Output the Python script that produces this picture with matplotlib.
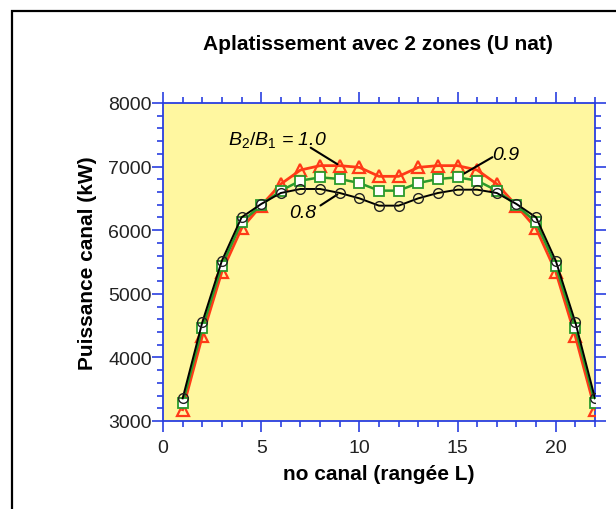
import matplotlib
matplotlib.use('Agg')
import matplotlib.pyplot as plt
from matplotlib.patches import Rectangle
from matplotlib.ticker import MultipleLocator

plt.rcParams['font.family'] = ['Liberation Sans', 'DejaVu Sans']
plt.rcParams['mathtext.fontset'] = 'custom'
plt.rcParams['mathtext.it'] = 'Liberation Sans:italic'
plt.rcParams['mathtext.rm'] = 'Liberation Sans'

# puissance par canal, rangée L
canal = list(range(1, 23))
p_10 = [3178, 4331, 5348, 6029, 6386, 6726, 6946, 7015, 7015, 6988, 6847,
        6847, 6988, 7015, 7015, 6946, 6726, 6386, 6029, 5348, 4331, 3178]
p_09 = [3283, 4457, 5442, 6124, 6396, 6622, 6779, 6831, 6805, 6742, 6622,
        6622, 6742, 6805, 6831, 6779, 6622, 6396, 6124, 5442, 4457, 3283]
p_08 = [3356, 4551, 5521, 6202, 6412, 6585, 6648, 6648, 6585, 6501, 6386,
        6386, 6501, 6585, 6637, 6637, 6585, 6412, 6202, 5521, 4551, 3356]

bleu = '#2a3fe0'

fig = plt.figure(figsize=(6.16, 5.10), dpi=100)
fig.patches.append(Rectangle((12 / 616, -0.1), 1.2, 1 - 12 / 510 + 0.1,
                             transform=fig.transFigure, fill=False,
                             edgecolor='black', lw=1.6))

ax = fig.add_axes([163 / 616, 1 - 422 / 510, 432 / 616, 318 / 510])
ax.set_facecolor('#fff7a0')

ax.plot(canal, p_10, color='#ff3a17', lw=2.0, marker='^', ms=8,
        mfc='none', mec='#ff3a17', mew=1.6, zorder=3)
ax.plot(canal, p_09, color='#2b9a2b', lw=1.8, marker='s', ms=7,
        mfc='white', mec='#2b9a2b', mew=1.3, zorder=4)
ax.plot(canal, p_08, color='black', lw=1.4, marker='o', ms=7,
        mfc='none', mec='#222222', mew=1.0, zorder=5)

# étiquettes des courbes
ax.text(3.3, 7434, r'$B_2/B_1$ = 1.0', style='italic', fontsize=14, va='center')
ax.annotate('', xy=(9, p_10[8]), xytext=(7.4, 7320),
            arrowprops=dict(arrowstyle='-', color='black', lw=1.5))
ax.text(16.75, 7198, '0.9', style='italic', fontsize=14, va='center')
ax.annotate('', xy=(15, p_09[14]), xytext=(16.9, 7170),
            arrowprops=dict(arrowstyle='-', color='black', lw=1.5))
ax.text(6.45, 6286, '0.8', style='italic', fontsize=14, va='center')
ax.annotate('', xy=(9, p_08[8]), xytext=(7.9, 6365),
            arrowprops=dict(arrowstyle='-', color='black', lw=1.5))

ax.set_xlim(0, 22)
ax.set_ylim(3000, 8000)
ax.xaxis.set_major_locator(MultipleLocator(5))
ax.xaxis.set_minor_locator(MultipleLocator(1))
ax.yaxis.set_major_locator(MultipleLocator(1000))
ax.yaxis.set_minor_locator(MultipleLocator(200))

for s in ax.spines.values():
    s.set_color(bleu)
    s.set_linewidth(1.3)
ax.tick_params(which='both', direction='out', color=bleu, width=1.2,
               top=True, right=True, labelsize=14, labelcolor='#222222')
ax.tick_params(which='major', length=8)
ax.tick_params(which='minor', length=4.5)
ax.tick_params(axis='y', which='major', pad=0)
ax.tick_params(axis='x', which='major', pad=5)

ax.set_xlabel('no canal (rangée L)', fontsize=15, fontweight='bold', labelpad=6)
ax.set_ylabel('Puissance canal (kW)', fontsize=15, fontweight='bold', labelpad=8)
fig.text(378 / 616, 1 - 45 / 510, 'Aplatissement avec 2 zones (U nat)',
         ha='center', va='center', fontsize=15, fontweight='bold')

fig.savefig('out.png', dpi=100)
